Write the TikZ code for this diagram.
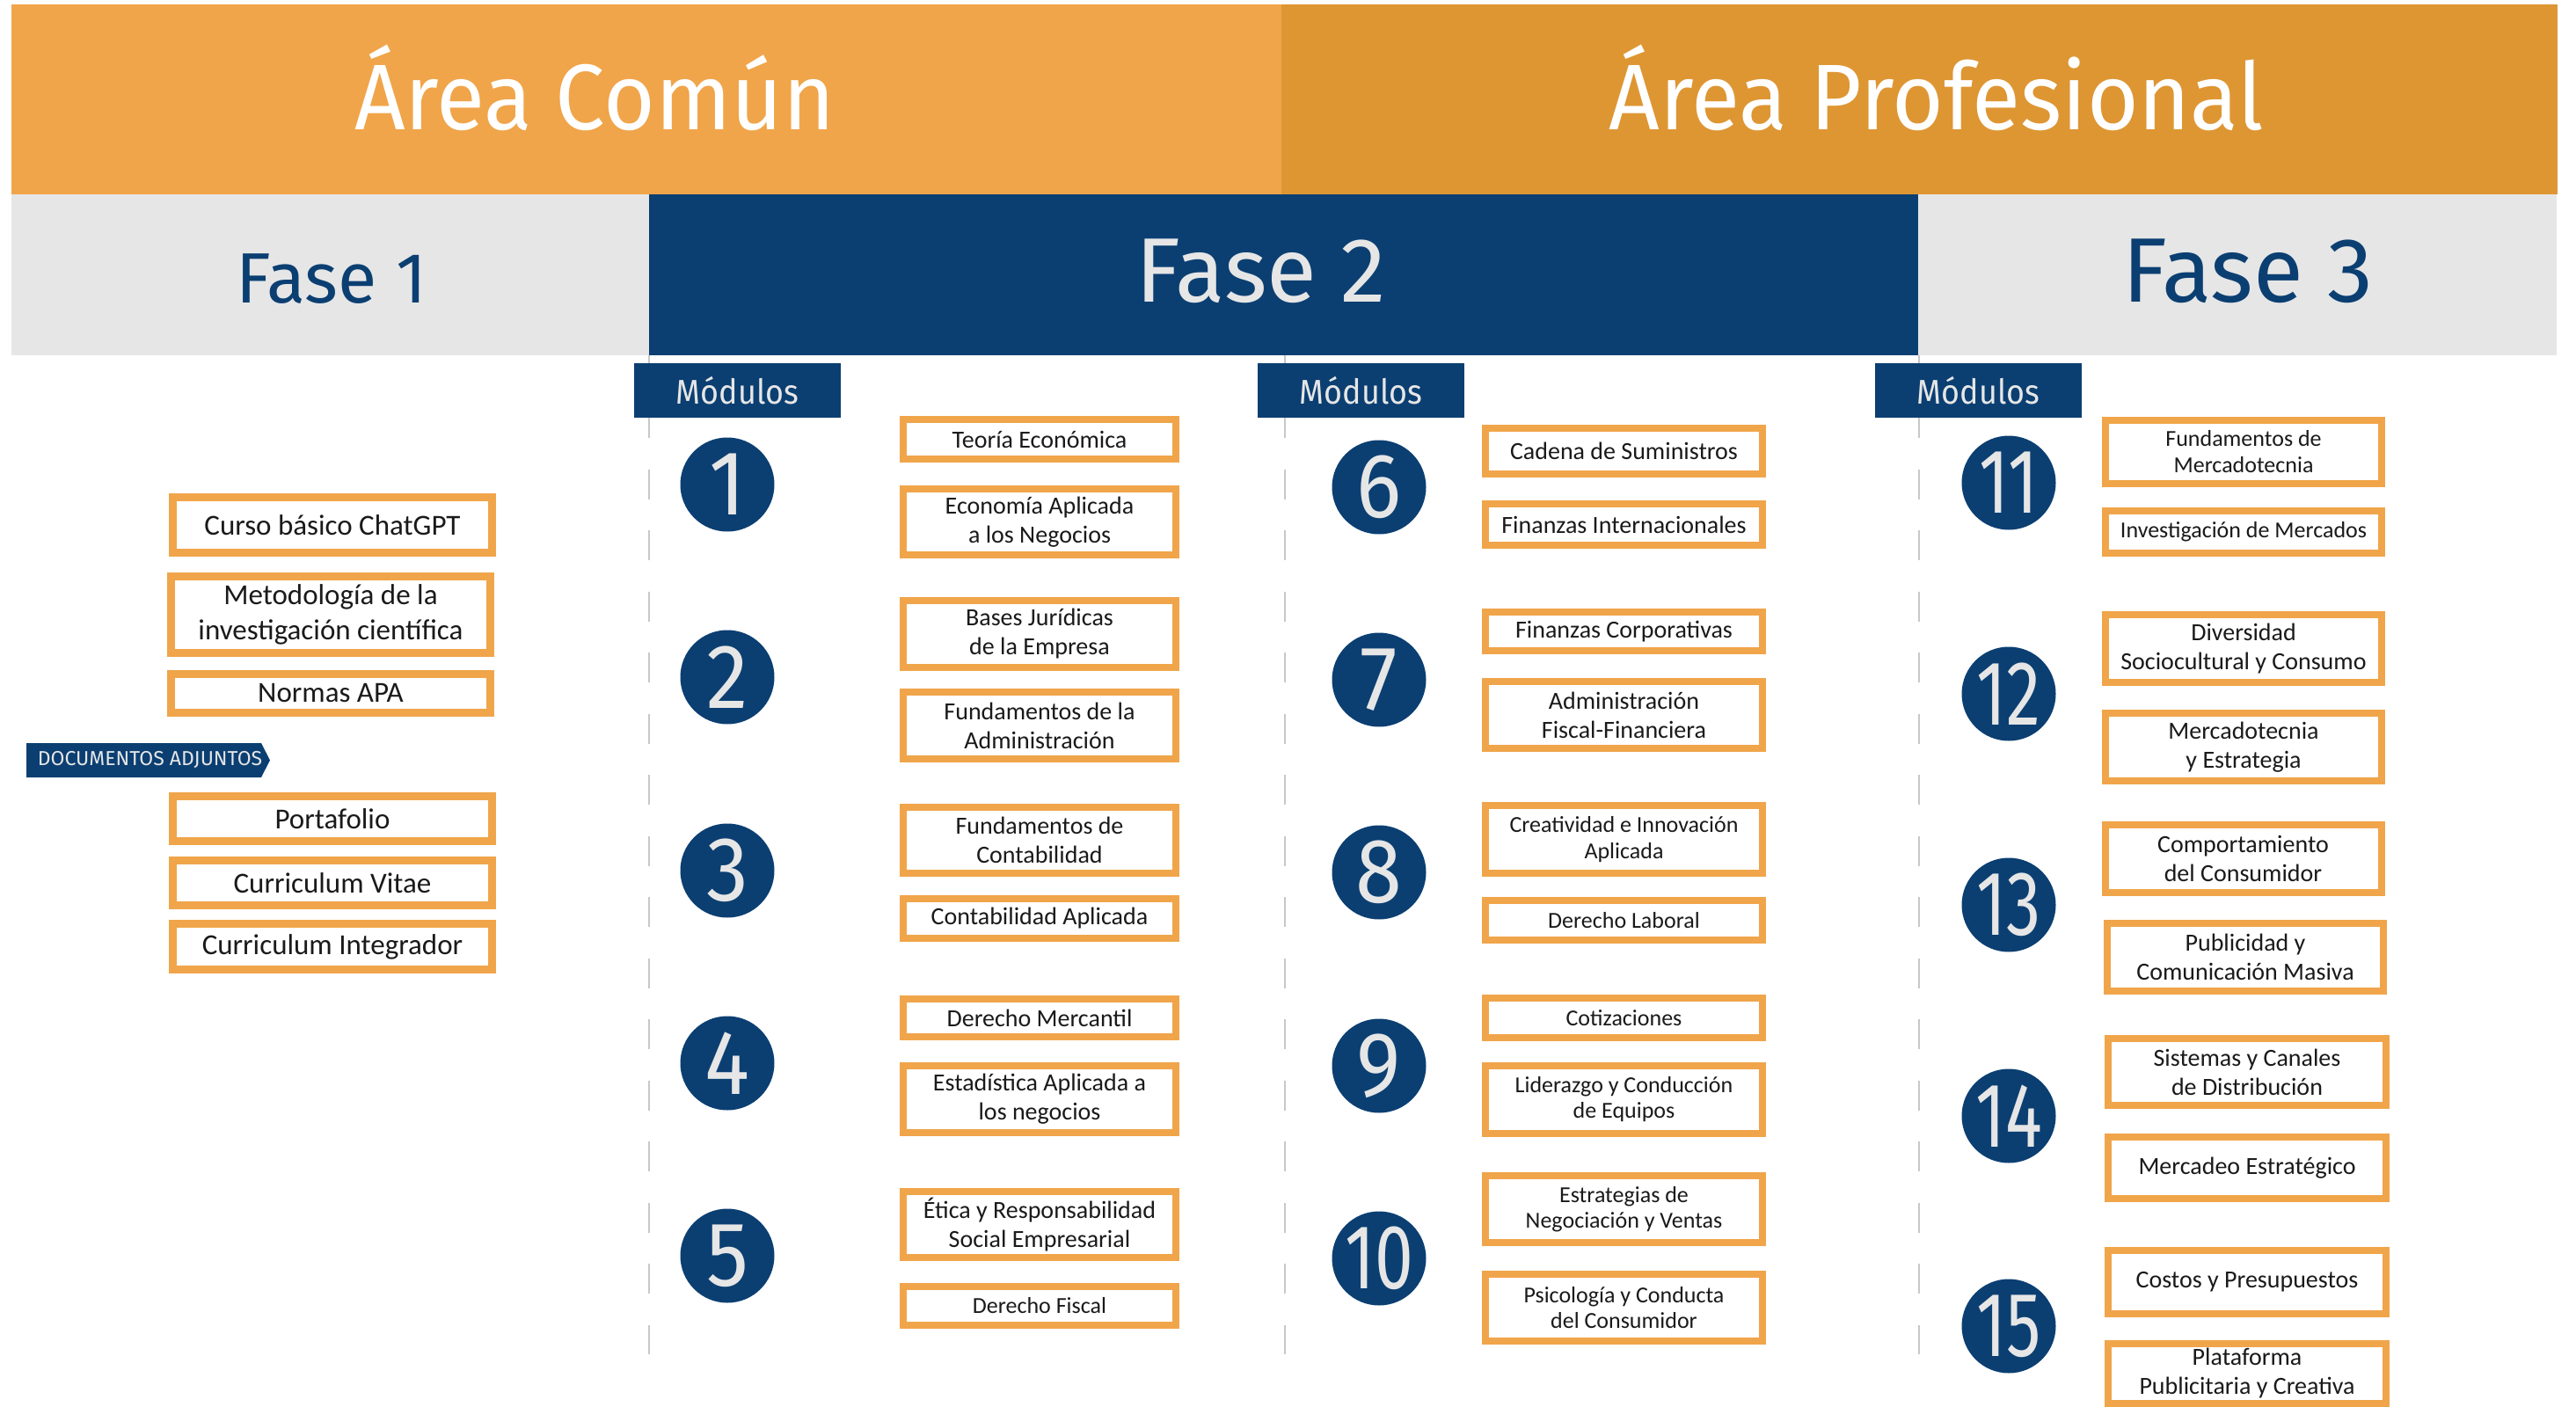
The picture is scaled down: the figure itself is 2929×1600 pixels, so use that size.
\documentclass[tikz,border=0pt]{standalone}
\usepackage{fontspec}
\setmainfont{Carlito}
\newfontfamily\hfont[FakeStretch=0.92]{Fira Sans}
\newfontfamily\afont[FakeStretch=0.95]{Fira Sans}
\newfontfamily\ffont{Fira Sans}
\definecolor{orA}{HTML}{F0A54A}
\definecolor{orB}{HTML}{DE9633}
\definecolor{navy}{HTML}{0B3F72}
\definecolor{lgray}{HTML}{E6E6E6}
\definecolor{dgray}{HTML}{C8C8C8}
\definecolor{txt}{HTML}{1A1A1A}
\tikzset{
  cbox/.style={draw=orA, line width=8pt, fill=white, inner sep=0pt, align=center, text=txt,
    font=\fontsize{28}{33}\selectfont},
  c1box/.style={cbox, minimum width=310pt},
  c2box/.style={cbox, minimum width=315pt},
  c3box/.style={cbox, minimum width=314pt},
  lbox/.style={cbox, line width=9pt, minimum width=363pt, font=\fontsize{33}{40}\selectfont},
  sm/.style={font=\fontsize{26}{30}\selectfont},
  xs/.style={font=\fontsize{26}{29}\selectfont},
  numcirc/.style={circle, fill=navy, minimum size=107pt, inner sep=0pt},
  numtxt/.style={inner sep=0pt, text=lgray, font=\hfont\fontsize{104}{104}\selectfont},
  tab/.style={fill=navy, inner sep=0pt, minimum width=235pt, minimum height=62pt, text=lgray,
    font=\hfont\fontsize{39}{39}\selectfont},
  dl/.style={draw=dgray, line width=2.5pt, dash pattern=on 34pt off 35.5pt},
  head/.style={inner sep=0pt, anchor=base}
}
\newcommand{\tw}[1]{\scalebox{0.82}[1]{#1}}
\begin{document}
\begin{tikzpicture}[x=1pt,y=-1pt]
\useasboundingbox (0,0) rectangle (2929,1600);
\fill[white] (0,0) rectangle (2929,1600);
% dashed guide lines
\draw[dl] (738,394.5) -- (738,1540);
\draw[dl] (1461,394.5) -- (1461,1540);
\draw[dl] (2182,394.5) -- (2182,1540);
% header bands
\fill[orA] (13,5) rectangle (1457,221);
\fill[orB] (1457,5) rectangle (2908,221);
\fill[lgray] (13,221) rectangle (738,404);
\fill[navy] (738,221) rectangle (2181,404);
\fill[lgray] (2181,221) rectangle (2907,404);
\node[head, text=white, font=\afont\fontsize{106}{106}\selectfont] (acomun) at (676,147) {Área Común};
\node[head, text=white, font=\afont\fontsize{106}{106}\selectfont] (aprof) at (2202,147) {Área Profesional};
\node[head, text=navy, font=\ffont\fontsize{81}{81}\selectfont] (fase1) at (377,344) {Fase 1};
\node[head, text=lgray, font=\ffont\fontsize{104}{104}\selectfont] (fase2) at (1434,343) {Fase 2};
\node[head, text=navy, font=\ffont\fontsize{104}{104}\selectfont] (fase3) at (2556,343) {Fase 3};
% tabs
\node[tab] (tab1) at (838.5,444) {Módulos};
\node[tab] (tab2) at (1547.5,444) {Módulos};
\node[tab] (tab3) at (2249.5,444) {Módulos};
% Fase 1 column
\node[lbox, minimum height=63pt] (f1) at (378,597) {Curso básico ChatGPT};
\node[lbox, minimum height=87pt] (f2) at (376,699) {Metodología de la\\investigación científica};
\node[lbox, minimum height=44pt] (f3) at (376,788.5) {Normas APA};
\fill[navy] (30,845) -- (297,845) -- (307,864.5) -- (297,884) -- (30,884) -- cycle;
\node[inner sep=0pt, text=lgray, font=\ffont\fontsize{23}{23}\selectfont] (doc) at (170.5,864.5) {DOCUMENTOS ADJUNTOS};
\node[lbox, minimum height=51pt] (f4) at (378,931) {Portafolio};
\node[lbox, minimum height=51pt] (f5) at (378,1004) {Curriculum Vitae};
\node[lbox, minimum height=52pt] (f6) at (378,1076.5) {Curriculum Integrador};
% circles column 1
\foreach \n/\y in {1/551,2/770,3/990,4/1209,5/1428}{
  \node[numcirc] (c\n) at (827,\y) {};
  \node[numtxt] (n\n) at (c\n) {\n};
}
% circles column 2
\foreach \n/\y in {6/554,7/773,8/992,9/1212}{
  \node[numcirc] (c\n) at (1568,\y) {};
  \node[numtxt] (n\n) at (c\n) {\n};
}
\node[numcirc] (c10) at (1568,1431) {};
\node[numtxt] (n10) at (c10) {\tw{10}};
% circles column 3
\foreach \n/\y in {11/549,12/789,13/1029,14/1269,15/1508}{
  \node[numcirc] (c\n) at (2284,\y) {};
  \node[numtxt] (n\n) at (c\n) {\tw{\n}};
}
% column 1 boxes
\node[c1box, minimum height=45pt] (m1a) at (1182,499.5) {Teoría Económica};
\node[c1box, minimum height=75pt] (m1b) at (1182,593.5) {Economía Aplicada\\a los Negocios};
\node[c1box, minimum height=76pt] (m2a) at (1182,721) {Bases Jurídicas\\de la Empresa};
\node[c1box, minimum height=76pt] (m2b) at (1182,825) {Fundamentos de la\\Administración};
\node[c1box, minimum height=75pt] (m3a) at (1182,955.5) {Fundamentos de\\Contabilidad};
\node[c1box, minimum height=45pt] (m3b) at (1182,1044.5) {Contabilidad Aplicada};
\node[c1box, minimum height=43pt] (m4a) at (1182,1157.5) {Derecho Mercantil};
\node[c1box, minimum height=76pt] (m4b) at (1182,1250) {Estadística Aplicada a\\los negocios};
\node[c1box, minimum height=75pt] (m5a) at (1182,1392.5) {Ética y Responsabilidad\\Social Empresarial};
\node[c1box, sm, minimum height=44pt] (m5b) at (1182,1485) {Derecho Fiscal};
% column 2 boxes
\node[c2box, minimum height=52pt] (m6a) at (1846.5,513) {Cadena de Suministros};
\node[c2box, minimum height=47pt] (m6b) at (1846.5,596.5) {Finanzas Internacionales};
\node[c2box, minimum height=44pt] (m7a) at (1846.5,718) {Finanzas Corporativas};
\node[c2box, minimum height=76pt] (m7b) at (1846.5,813) {Administración\\Fiscal-Financiera};
\node[c2box, sm, minimum height=77pt] (m8a) at (1846.5,954.5) {Creatividad e Innovación\\Aplicada};
\node[c2box, sm, minimum height=45pt] (m8b) at (1846.5,1046.5) {Derecho Laboral};
\node[c2box, xs, minimum height=45pt] (m9a) at (1846.5,1157.5) {Cotizaciones};
\node[c2box, xs, minimum height=77pt] (m9b) at (1846.5,1250.5) {Liderazgo y Conducción\\de Equipos};
\node[c2box, xs, minimum height=76pt] (m10a) at (1846.5,1375) {Estrategias de\\Negociación y Ventas};
\node[c2box, xs, minimum height=76pt] (m10b) at (1846.5,1487) {Psicología y Conducta\\del Consumidor};
% column 3 boxes
\node[c3box, sm, minimum height=72pt] (m11a) at (2551,514) {Fundamentos de\\Mercadotecnia};
\node[c3box, sm, minimum height=48pt] (m11b) at (2551,605) {Investigación de Mercados};
\node[c3box, minimum height=77pt] (m12a) at (2551,737.5) {Diversidad\\Sociocultural y Consumo};
\node[c3box, minimum height=77pt] (m12b) at (2551,849.5) {Mercadotecnia\\y Estrategia};
\node[c3box, minimum height=77pt] (m13a) at (2550.5,976.5) {Comportamiento\\del Consumidor};
\node[c3box, minimum height=77pt] (m13b) at (2553,1088.5) {Publicidad y\\Comunicación Masiva};
\node[c3box, minimum width=316pt, minimum height=76pt] (m14a) at (2555,1219) {Sistemas y Canales\\de Distribución};
\node[c3box, minimum width=316pt, minimum height=70pt] (m14b) at (2555,1328) {Mercadeo Estratégico};
\node[c3box, minimum width=316pt, minimum height=72pt] (m15a) at (2555,1458) {Costos y Presupuestos};
\node[c3box, minimum width=316pt, minimum height=68pt] (m15b) at (2555,1562) {Plataforma\\Publicitaria y Creativa};
\end{tikzpicture}
\end{document}
